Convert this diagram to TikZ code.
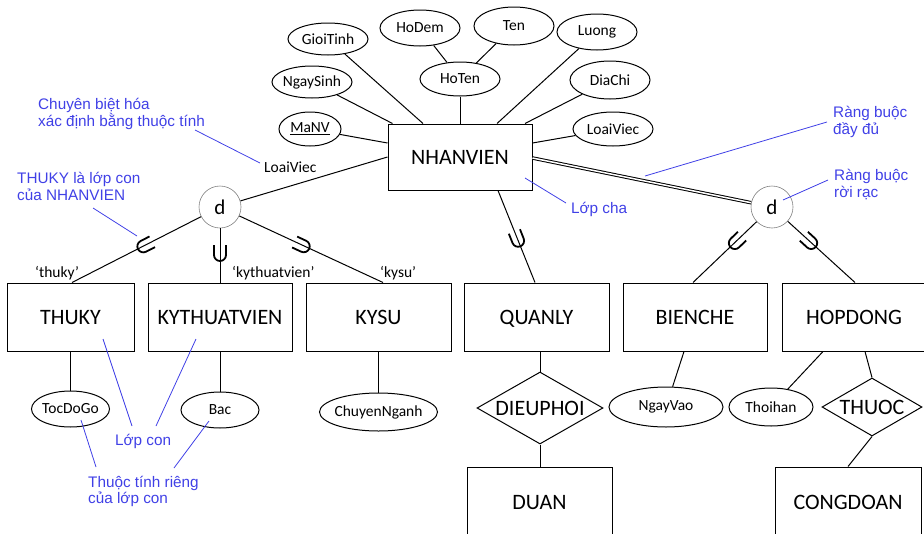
\documentclass[tikz,border=0pt]{standalone}
\usepackage{fontspec}
\setmainfont{Carlito}
\newfontfamily\annfont{Liberation Sans}
\usetikzlibrary{shapes.geometric}
\definecolor{annblue}{RGB}{64,64,230}
\newcommand\ztext[1]{\makebox[0pt]{#1}}
\newcommand\subsetU[3]{\draw[subsetmark, shift={(#1,#2)}, rotate=#3] (7pt,6pt) -- (-3pt,6pt) arc[start angle=90, end angle=270, radius=6pt] -- (7pt,-6pt);}
\begin{document}
\begin{tikzpicture}[x=1pt,y=-1pt,
 entity/.style={draw, rectangle, line width=1pt, inner sep=0pt, minimum height=68pt, text depth=0pt, font=\fontsize{22}{26}\selectfont},
 attr/.style={draw, ellipse, line width=1pt, inner sep=0pt, font=\fontsize{15.5}{18}\selectfont},
 rel/.style={draw, diamond, line width=1pt, inner sep=0pt, font=\fontsize{22}{26}\selectfont},
 dcirc/.style={draw=gray, circle, line width=0.6pt, minimum size=42pt, inner sep=0pt, font=\fontsize{21}{24}\selectfont},
 conn/.style={line width=1pt},
 subsetmark/.style={line width=1.8pt},
 lbl/.style={font=\fontsize{15.5}{18}\selectfont, inner sep=0pt, anchor=base west},
 ann/.style={font=\annfont\fontsize{15.3}{18}\selectfont, text=annblue, inner sep=0pt, anchor=base west},
 annline/.style={draw=annblue, line width=0.8pt}]
\useasboundingbox (0,0) rectangle (924,533);
\clip (0,0) rectangle (924,533);

% superclass
\node[entity, minimum width=144pt, minimum height=66pt] (nv) at (460,157) {NHANVIEN};

% attributes of NHANVIEN
\node[attr, minimum width=80pt, minimum height=32pt] (gioitinh) at (328,39) {\ztext{GioiTinh}};
\node[attr, minimum width=80pt, minimum height=32pt] (ngaysinh) at (312,82) {\ztext{NgaySinh}};
\node[attr, minimum width=62pt, minimum height=34pt] (manv) at (310,129) {\ztext{\underline{MaNV}}};
\node[attr, minimum width=80pt, minimum height=36pt] (hodem) at (420,28) {\ztext{HoDem}};
\node[attr, minimum width=80pt, minimum height=38pt] (ten) at (514,26) {\ztext{Ten}};
\node[attr, minimum width=80pt, minimum height=36pt] (luong) at (597,32) {\ztext{Luong}};
\node[attr, minimum width=80pt, minimum height=34pt] (hoten) at (460,79) {\ztext{HoTen}};
\node[attr, minimum width=80pt, minimum height=38pt] (diachi) at (610,80) {\ztext{DiaChi}};
\node[attr, minimum width=80pt, minimum height=34pt] (loaiviec) at (613,129) {\ztext{LoaiViec}};

\draw[conn] (gioitinh) -- ([xshift=-37pt]nv.north);
\draw[conn] (ngaysinh) -- ([xshift=5pt]nv.north west);
\draw[conn] (manv) -- ([yshift=14pt]nv.west);
\draw[conn] (hoten) -- (nv.north);
\draw[conn] (luong) -- ([xshift=37pt]nv.north);
\draw[conn] (diachi) -- ([xshift=65pt]nv.north);
\draw[conn] (loaiviec) -- ([yshift=14pt]nv.east);
\draw[conn] (hodem) -- (hoten);
\draw[conn] (ten) -- (hoten);

% specialization circles
\node[dcirc] (dl) at (220,207) {d};
\node[dcirc] (dr) at (772,207) {d};

% subclasses
\node[entity, minimum width=127pt] (thuky) at (70.5,317) {THUKY};
\node[entity, minimum width=144pt] (ktv) at (220,317) {KYTHUATVIEN};
\node[entity, minimum width=145pt] (kysu) at (378.5,317) {KYSU};
\node[entity, minimum width=145pt] (quanly) at (536.5,317) {QUANLY};
\node[entity, minimum width=144pt] (bienche) at (695,317) {BIENCHE};
\node[entity, minimum width=144pt] (hopdong) at (854,317) {HOPDONG};

\draw[conn] (dl) -- (nv.west);
\draw[double=white, double distance=1.5pt, line width=1pt] ([yshift=-1pt]nv.east) -- (dr);
\draw[conn] (dl) -- ([xshift=1.5pt]thuky.north);
\draw[conn] (dl) -- (ktv.north);
\draw[conn] (dl) -- ([xshift=4.5pt]kysu.north);
\draw[conn] ([xshift=38pt]nv.south) -- ([xshift=-1.5pt]quanly.north);
\draw[conn] (dr) -- ([xshift=-2pt]bienche.north);
\draw[conn] (dr) -- ([xshift=1pt]hopdong.north);

% subset marks
\subsetU{146}{245}{27.2}
\subsetU{220}{252}{90}
\subsetU{301}{245}{155}
\subsetU{517}{238}{111.7}
\subsetU{737}{241}{43.9}
\subsetU{809}{241}{137.5}

% defining attribute labels
\node[lbl] (lvlabel) at (264,172) {LoaiViec};
\node[lbl] (lthuky) at (35,277) {‘thuky’};
\node[lbl] (lktv) at (232,277) {‘kythuatvien’};
\node[lbl] (lkysu) at (380,277) {‘kysu’};

% local attributes
\node[attr, minimum width=78pt, minimum height=36pt] (tocdogo) at (70.5,409) {\ztext{TocDoGo}};
\node[attr, minimum width=78pt, minimum height=36pt] (bac) at (220,410) {\ztext{Bac}};
\node[attr, minimum width=118pt, minimum height=38pt] (chuyennganh) at (378.5,412) {\ztext{ChuyenNganh}};
\node[attr, minimum width=114pt, minimum height=40pt] (ngayvao) at (666,407) {\ztext{NgayVao}};
\node[attr, minimum width=84pt, minimum height=38pt] (thoihan) at (771,407) {\ztext{Thoihan}};

\draw[conn] (thuky) -- (tocdogo);
\draw[conn] (ktv) -- (bac);
\draw[conn] (kysu) -- (chuyennganh);
\draw[conn] ([xshift=-11pt]bienche.south) -- (ngayvao);
\draw[conn] ([xshift=-31pt]hopdong.south) -- (thoihan);

% relationships
\node[rel, minimum width=126pt, minimum height=72pt] (dieuphoi) at (540,408) {\ztext{DIEUPHOI}};
\node[rel, minimum width=100pt, minimum height=58pt] (thuoc) at (872,407) {\ztext{THUOC}};
\node[entity, minimum width=145pt, minimum height=70pt] (duan) at (539.5,502) {DUAN};
\node[entity, minimum width=146pt, minimum height=70pt] (congdoan) at (848,502) {CONGDOAN};

\draw[conn] (dieuphoi.north) -- (dieuphoi.north |- quanly.south);
\draw[conn] (dieuphoi.south) -- (dieuphoi.south |- duan.north);
\draw[conn] ([xshift=11pt]hopdong.south) -- (thuoc.north);
\draw[conn] (thuoc.south) -- (congdoan.north);

% annotations
\node[ann] (a1) at (38,109) {Chuyên biệt hóa};
\node[ann] (a1b) at (38,126) {xác định bằng thuộc tính};
\coordinate (p1a) at (195,130); \coordinate (p1b) at (260,163);
\draw[annline] (p1a) -- (p1b);

\node[ann] (a2) at (17,183) {THUKY là lớp con};
\node[ann] (a2b) at (17,200) {của NHANVIEN};
\coordinate (p2a) at (93,208); \coordinate (p2b) at (137,236);
\draw[annline] (p2a) -- (p2b);

\node[ann] (a3) at (571,213) {Lớp cha};
\coordinate (p3a) at (525,178); \coordinate (p3b) at (566,203);
\draw[annline] (p3a) -- (p3b);

\node[ann] (a4) at (833,117) {Ràng buộc};
\node[ann] (a4b) at (833,134) {đầy đủ};
\coordinate (p4a) at (827,122); \coordinate (p4b) at (645,176);
\draw[annline] (p4a) -- (p4b);

\node[ann] (a5) at (834,180) {Ràng buộc};
\node[ann] (a5b) at (834,197) {rời rạc};
\coordinate (p5a) at (828,180); \coordinate (p5b) at (783,200);
\draw[annline] (p5a) -- (p5b);

\node[ann] (a6) at (115,445) {Lớp con};
\coordinate (p6a) at (103,339); \coordinate (p6b) at (132,426);
\coordinate (p6c) at (196,339); \coordinate (p6d) at (156,426);
\draw[annline] (p6a) -- (p6b);
\draw[annline] (p6c) -- (p6d);

\node[ann] (a7) at (88,487) {Thuộc tính riêng};
\node[ann] (a7b) at (88,503) {của lớp con};
\coordinate (p7a) at (81,420); \coordinate (p7b) at (96,467);
\coordinate (p7c) at (209,421); \coordinate (p7d) at (174,468);
\draw[annline] (p7a) -- (p7b);
\draw[annline] (p7c) -- (p7d);
\end{tikzpicture}
\end{document}
